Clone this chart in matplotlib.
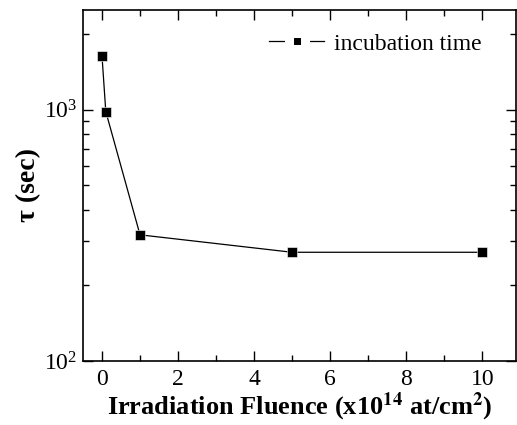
import matplotlib
matplotlib.use("Agg")
import matplotlib.pyplot as plt
from matplotlib.lines import Line2D
from matplotlib.ticker import LogLocator, MultipleLocator, NullFormatter

plt.rcParams['font.family'] = ['Liberation Serif', 'DejaVu Serif']
plt.rcParams['mathtext.fontset'] = 'stix'

fluence = [0, 0.1, 1, 5, 10]
tau = [1640, 985, 318, 271, 271]
series_label = "incubation time"

fig = plt.figure(figsize=(5.17, 4.25), dpi=100)
ax = fig.add_axes([0.1605, 0.1506, 0.8385, 0.827])

ax.plot(fluence, tau, color='black', lw=0.9, marker='s', markersize=6.5,
        markeredgecolor='white', markeredgewidth=0.4)
ax.set_yscale('log')
ax.set_xlim(-0.5, 10.9)
ax.set_ylim(100, 2510)

ax.xaxis.set_major_locator(MultipleLocator(2))
ax.xaxis.set_minor_locator(MultipleLocator(1))
ax.yaxis.set_major_locator(LogLocator(base=10))
ax.yaxis.set_minor_locator(LogLocator(base=10, subs=range(2, 10)))
ax.yaxis.set_minor_formatter(NullFormatter())

ax.tick_params(which='both', direction='in', top=True, right=True,
               labelsize=17, width=1.0)
ax.tick_params(which='major', length=7)
ax.tick_params(which='minor', length=4)
ax.tick_params(axis='x', pad=6)
ax.tick_params(axis='y', pad=4)
for s in ax.spines.values():
    s.set_linewidth(1.2)

ax.set_xlabel(r"Irradiation Fluence (x10$^{\mathbf{14}}$ at/cm$^{\mathbf{2}}$)",
              fontsize=19, fontweight='bold', labelpad=0)
ax.set_ylabel(r"τ (sec)", fontsize=20, fontweight='bold', labelpad=2)

proxy = Line2D([], [], color='black', lw=0.9, marker='s', markersize=11,
               markerfacecolor='black', markeredgecolor='white',
               markeredgewidth=6.5)
leg = ax.legend([proxy], [series_label], loc='upper right', frameon=False,
                fontsize=17, handlelength=2.3, handletextpad=0.45,
                borderaxespad=0.6, bbox_to_anchor=(0.975, 1.0))

fig.savefig("out.png", dpi=100)
